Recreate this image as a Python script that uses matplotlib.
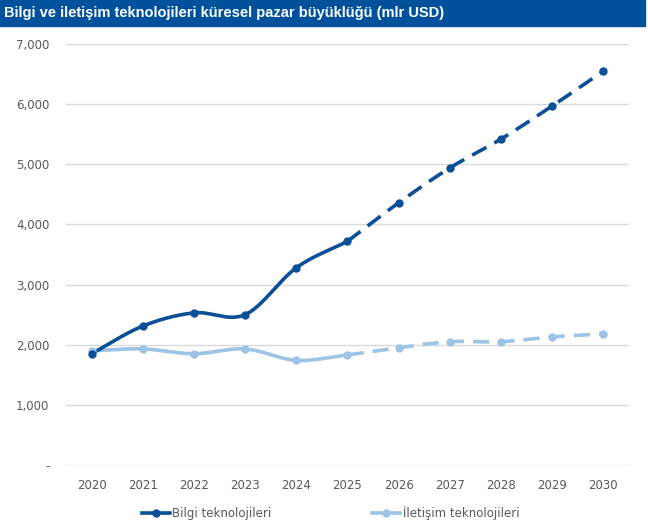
import numpy as np
import matplotlib.pyplot as plt
from matplotlib.patches import Rectangle

years = [2020, 2021, 2022, 2023, 2024, 2025, 2026, 2027, 2028, 2029, 2030]
bilgi = [1850, 2310, 2530, 2500, 3280, 3720, 4360, 4940, 5420, 5970, 6550]
iletisim = [1900, 1930, 1850, 1930, 1740, 1830, 1950, 2050, 2050, 2130, 2180]
split_year = 2025
yticks = [0, 1000, 2000, 3000, 4000, 5000, 6000, 7000]
ytick_labels = ["-", "1,000", "2,000", "3,000", "4,000", "5,000", "6,000", "7,000"]

dark = "#0A4F97"
light = "#9DC3E6"
gray = "#595959"


def smooth(x, y, n=30):
    # Catmull-Rom style smoothing like Excel's "smoothed line"
    x = np.asarray(x, float)
    y = np.asarray(y, float)
    px = np.concatenate([[2 * x[0] - x[1]], x, [2 * x[-1] - x[-2]]])
    py = np.concatenate([[2 * y[0] - y[1]], y, [2 * y[-1] - y[-2]]])
    xs, ys = [], []
    for i in range(1, len(px) - 2):
        t = np.linspace(0, 1, n)
        t2, t3 = t * t, t * t * t
        for p, out in ((px, xs), (py, ys)):
            p0, p1, p2, p3 = p[i - 1], p[i], p[i + 1], p[i + 2]
            out.extend(0.5 * (2 * p1 + (-p0 + p2) * t
                              + (2 * p0 - 5 * p1 + 4 * p2 - p3) * t2
                              + (-p0 + 3 * p1 - 3 * p2 + p3) * t3))
    return np.array(xs), np.array(ys)


fig = plt.figure(figsize=(6.48, 5.2), dpi=100)
ax = fig.add_axes([66 / 648, 1 - 465 / 520, (629 - 66) / 648, (465 - 44) / 520])

k = years.index(split_year)
for vals, col, lab in ((iletisim, light, "İletişim teknolojileri"),
                       (bilgi, dark, "Bilgi teknolojileri")):
    sx, sy = smooth(years[:k + 1], vals[:k + 1])
    ax.plot(sx, sy, color=col, lw=2.6, solid_capstyle="round")
    dx, dy = smooth(years[k:], vals[k:])
    ax.plot(dx, dy, color=col, lw=2.6, ls=(0, (4.5, 2.5)))
    ax.plot(years, vals, "o", color=col, ms=5, zorder=3)
    ax.plot([], [], color=col, lw=2.6, marker="o", ms=5, label=lab)

ax.set_xlim(2019.5, 2030.5)
ax.set_ylim(0, 7000)
ax.set_xticks(years)
ax.set_xticklabels([str(y) for y in years])
ax.set_yticks(yticks)
ax.set_yticklabels(ytick_labels)
ax.tick_params(length=0, labelsize=8.5, colors=gray)
ax.tick_params(axis="y", pad=12)
ax.tick_params(axis="x", pad=10)
ax.grid(axis="y", color="#D9D9D9", lw=1)
ax.set_axisbelow(True)
for s in ax.spines.values():
    s.set_visible(False)

h, l = ax.get_legend_handles_labels()
fig.legend(h[::-1], l[::-1], loc="center", bbox_to_anchor=(0.51, 1 - 513 / 520),
           ncol=2, frameon=False, fontsize=8.5, labelcolor=gray,
           columnspacing=8.5, handlelength=2.4, handletextpad=0.2)

fig.patches.append(Rectangle((0, 1 - 26 / 520), 645 / 648, 26 / 520,
                             transform=fig.transFigure, color="#00519C", zorder=0))
fig.text(4 / 648, 1 - 13 / 520, "Bilgi ve iletişim teknolojileri küresel pazar büyüklüğü (mlr USD)",
         color="white", fontweight="bold", fontsize=10.5, va="center", ha="left",
         family="Liberation Sans")

fig.savefig("out.png", dpi=100)
